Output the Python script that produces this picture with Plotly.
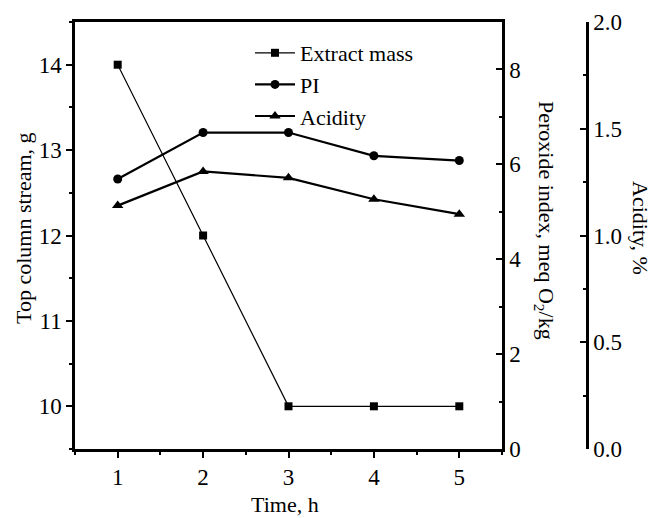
import plotly.graph_objects as go

time_h = [1, 2, 3, 4, 5]
extract_mass = [14.0, 12.0, 10.0, 10.0, 10.0]
peroxide_index = [5.69, 6.67, 6.67, 6.18, 6.08]
acidity = [1.14, 1.30, 1.27, 1.17, 1.10]

FONT = "Liberation Serif, Times New Roman, serif"
OFF = 8  # default page body margin
W, H = 660 - OFF, 518 - OFF
L, R, T, B = 75 - OFF, 73, 22 - OFF, 69
plot_w = W - L - R
plot_h = H - T - B
xdom_end = (502 - 75) / plot_w


def px(xpage):
    return (xpage - OFF - L) / plot_w


def py(ypage):
    return (H - B - (ypage - OFF)) / plot_h


fig = go.Figure()
fig.add_trace(go.Scatter(x=time_h, y=extract_mass, name="Extract mass", mode="lines+markers",
                         line=dict(color="black", width=1.2),
                         marker=dict(symbol="square", size=8, color="black"),
                         xaxis="x", yaxis="y"))
fig.add_trace(go.Scatter(x=time_h, y=peroxide_index, name="PI", mode="lines+markers",
                         line=dict(color="black", width=2.2),
                         marker=dict(symbol="circle", size=9, color="black"),
                         xaxis="x", yaxis="y2"))
fig.add_trace(go.Scatter(x=time_h, y=acidity, name="Acidity", mode="lines+markers",
                         line=dict(color="black", width=2.2),
                         marker=dict(symbol="triangle-up", size=10, color="black"),
                         xaxis="x", yaxis="y3"))

axfont = dict(family=FONT, size=23, color="black")
common = dict(showgrid=False, zeroline=False, showline=True, linecolor="black",
              linewidth=2.5, tickcolor="black", tickwidth=2, tickfont=axfont, automargin=False)
titlefont = dict(family=FONT, size=22, color="black")

fig.update_layout(
    width=W, height=H,
    margin=dict(l=L, r=R, t=T, b=B),
    paper_bgcolor="white", plot_bgcolor="white",
    font=dict(family=FONT, color="black"),
    showlegend=True,
    legend=dict(x=px(250), y=py(32), xanchor="left", yanchor="top",
                font=dict(family=FONT, size=22, color="black"),
                bgcolor="rgba(0,0,0,0)", tracegroupgap=0, itemwidth=40),
    xaxis=dict(domain=[0, xdom_end], range=[0.5, 5.5], tickvals=time_h, ticks="outside",
               ticklen=6, mirror=True,
               minor=dict(dtick=0.5, tick0=0.5, ticks="outside", ticklen=3, tickwidth=2, tickcolor="black"),
               **common),
    yaxis=dict(range=[9.5, 14.5], dtick=1, tick0=10, ticks="outside", ticklen=6,
               minor=dict(dtick=0.5, ticks="outside", ticklen=3, tickwidth=2, tickcolor="black"),
               **common),
    yaxis2=dict(overlaying="y", side="right", anchor="x", range=[0, 9], dtick=2, tick0=0,
                ticks="inside", ticklen=6,
                minor=dict(dtick=1, ticks="inside", ticklen=3, tickwidth=2, tickcolor="black"),
                **common),
    yaxis3=dict(overlaying="y", side="right", anchor="free", position=1.0, range=[0, 2],
                dtick=0.5, tick0=0, tickformat=".1f", ticks="inside", ticklen=6,
                minor=dict(dtick=0.25, ticks="inside", ticklen=3, tickwidth=2, tickcolor="black"),
                **common),
    annotations=[
        dict(text="Top column stream, g", textangle=-90, xref="paper", yref="paper",
             x=px(23), y=py(228), xanchor="center", yanchor="middle",
             showarrow=False, font=titlefont),
        dict(text="Time, h", xref="paper", yref="paper",
             x=px(285), y=py(505), xanchor="center", yanchor="middle",
             showarrow=False, font=titlefont),
        dict(text="Peroxide index, meq O<sub>2</sub>/kg", textangle=90, xref="paper", yref="paper",
             x=px(545), y=py(220), xanchor="center", yanchor="middle",
             showarrow=False, font=titlefont),
        dict(text="Acidity, %", textangle=90, xref="paper", yref="paper",
             x=px(641), y=py(228), xanchor="center", yanchor="middle",
             showarrow=False, font=titlefont),
    ],
)

fig.write_html("out.html")
